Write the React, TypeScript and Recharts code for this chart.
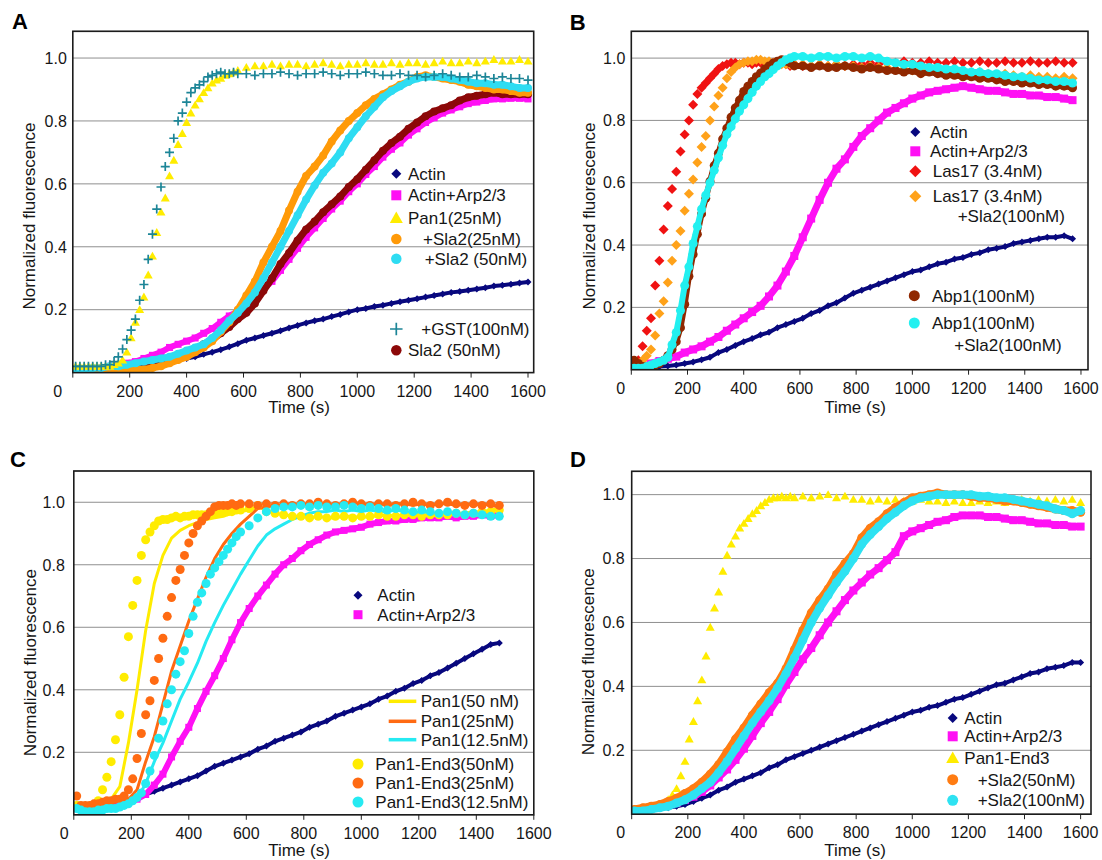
import React from "react";
import { ScatterChart, Scatter, XAxis, YAxis, CartesianGrid } from "recharts";

const FONT = '"Liberation Sans", Arial, Helvetica, sans-serif';
const INK = "#161616";

function range(a: number, b: number, step: number): number[] {
  const out: number[] = [];
  for (let t = a; t <= b; t += step) out.push(t);
  return out;
}

// ---------- axis ticks ----------
const xTicks = [0, 200, 400, 600, 800, 1000, 1200, 1400, 1600];
const yTicks = [0.2, 0.4, 0.6, 0.8, 1.0];

// ---------- sampling times (s) ----------
const timeA = range(10, 1600, 30);
const timeAFast = [...range(10, 580, 15), ...range(610, 1600, 30)];
const timeB = range(10, 1570, 30);
const timeBFast = [...range(10, 580, 15), ...range(610, 1570, 30)];
const timeC = range(10, 1480, 30);
const timeCFast = [...range(10, 580, 15), ...range(610, 1480, 30)];
const timeD = range(10, 1600, 30);
const timeDFast = [...range(10, 580, 15), ...range(610, 1600, 30)];

// ---------- Panel A values ----------
const aActin = [0.01,0.012,0.012,0.015,0.015,0.018,0.02,0.022,0.025,0.027,
  0.03,0.035,0.04,0.045,0.05,0.058,0.065,0.073,0.082,0.092,
  0.103,0.11,0.118,0.125,0.133,0.142,0.15,0.158,0.165,0.17,
  0.178,0.185,0.193,0.2,0.204,0.21,0.214,0.22,0.225,0.23,
  0.235,0.24,0.245,0.25,0.255,0.258,0.262,0.266,0.27,0.275,
  0.278,0.281,0.285,0.288];
const aArp = [0.01,0.01,0.01,0.015,0.02,0.025,0.03,0.035,0.045,0.055,
  0.065,0.08,0.09,0.1,0.11,0.125,0.14,0.16,0.18,0.195,
  0.21,0.235,0.265,0.29,0.325,0.36,0.395,0.43,0.46,0.49,
  0.52,0.545,0.575,0.6,0.63,0.655,0.685,0.71,0.73,0.755,
  0.775,0.795,0.81,0.825,0.835,0.845,0.855,0.86,0.865,0.87,
  0.87,0.872,0.872,0.87];
const aPan1 = [0.02,0.02,0.02,0.02,0.02,0.02,0.02,0.02,0.02,0.025,
  0.03,0.04,0.065,0.11,0.16,0.2,0.24,0.31,0.37,0.445,
  0.51,0.555,0.625,0.675,0.725,0.76,0.795,0.825,0.85,0.87,
  0.89,0.905,0.92,0.93,0.935,0.945,0.95,0.955,0.96,
  0.97,0.975,0.975,0.98,0.975,0.98,0.98,0.975,0.98,0.985,
  0.98,0.975,0.98,0.98,0.985,0.98,0.98,0.985,0.98,0.985,
  0.985,0.98,0.985,0.99,0.985,0.985,0.99,0.985,0.99,0.995,
  0.99,0.99,0.995,0.99];
const aSla25 = [0.01,0.01,0.005,0.005,0.005,0.005,0.005,0.01,0.01,0.015,
  0.02,0.03,0.04,0.05,0.065,0.08,0.1,0.13,0.16,0.2,
  0.245,0.29,0.35,0.4,0.45,0.515,0.575,0.625,0.655,0.69,
  0.735,0.77,0.8,0.825,0.85,0.87,0.885,0.9,0.915,0.925,
  0.94,0.945,0.94,0.935,0.93,0.925,0.915,0.91,0.905,0.9,
  0.9,0.895,0.89,0.89];
const aSla50 = [0.01,0.01,0.015,0.015,0.02,0.02,0.025,0.03,0.035,0.04,
  0.045,0.05,0.06,0.07,0.08,0.09,0.11,0.135,0.165,0.19,
  0.22,0.255,0.3,0.35,0.4,0.45,0.5,0.55,0.595,0.635,
  0.665,0.7,0.745,0.78,0.815,0.845,0.875,0.895,0.91,0.925,
  0.935,0.94,0.94,0.94,0.935,0.93,0.925,0.92,0.92,0.915,
  0.915,0.91,0.905,0.905];
const aGST = [0.02,0.02,0.02,0.02,0.02,0.02,0.02,0.025,0.025,0.035,
  0.05,0.075,0.105,0.135,0.17,0.23,0.28,0.36,0.44,0.52,
  0.59,0.655,0.7,0.745,0.8,0.825,0.86,0.89,0.905,0.915,
  0.925,0.94,0.945,0.95,0.955,0.95,0.95,0.955,0.95,
  0.95,0.945,0.95,0.95,0.955,0.95,0.945,0.95,0.95,0.955,
  0.95,0.945,0.95,0.95,0.955,0.95,0.945,0.945,0.95,0.945,
  0.945,0.94,0.945,0.95,0.945,0.94,0.94,0.945,0.94,0.935,
  0.94,0.935,0.935,0.93];
const aSla2 = [0.01,0.01,0.01,0.01,0.01,0.015,0.02,0.025,0.03,0.035,
  0.04,0.045,0.055,0.065,0.075,0.09,0.105,0.125,0.145,0.17,
  0.19,0.22,0.26,0.3,0.345,0.38,0.42,0.455,0.48,0.51,
  0.535,0.56,0.59,0.615,0.645,0.675,0.705,0.73,0.75,0.775,
  0.795,0.815,0.83,0.84,0.85,0.865,0.875,0.88,0.885,0.89,
  0.885,0.885,0.885,0.885];

// ---------- Panel B values ----------
const bActin = [0.0,0.0,0.005,0.01,0.012,0.015,0.02,0.025,0.032,0.04,
  0.055,0.065,0.078,0.09,0.1,0.112,0.12,0.135,0.145,0.155,
  0.165,0.18,0.19,0.205,0.215,0.23,0.245,0.255,0.265,0.275,
  0.285,0.295,0.305,0.315,0.32,0.33,0.34,0.345,0.355,0.36,
  0.37,0.375,0.385,0.39,0.395,0.405,0.41,0.415,0.42,0.425,
  0.425,0.43,0.42];
const bArp = [0.005,0.01,0.02,0.028,0.035,0.042,0.055,0.065,0.075,0.09,
  0.105,0.125,0.145,0.165,0.185,0.205,0.235,0.27,0.315,0.365,
  0.425,0.485,0.545,0.6,0.645,0.675,0.715,0.75,0.775,0.8,
  0.825,0.84,0.855,0.87,0.88,0.89,0.895,0.9,0.905,0.91,
  0.905,0.9,0.895,0.895,0.89,0.885,0.885,0.88,0.88,0.875,
  0.875,0.87,0.865];
const bLas17 = [0.02,0.03,0.075,0.125,0.165,0.27,0.35,0.45,0.525,0.58,
  0.635,0.7,0.755,0.8,0.85,0.885,0.905,0.92,0.935,0.95,
  0.965,0.975,0.98,0.985,0.985,0.98,0.985,0.985,0.98,0.985,
  0.985,0.98,0.985,0.985,0.98,0.985,0.98,0.975,0.98,
  0.975,0.975,0.98,0.975,0.98,0.975,0.98,0.98,0.985,0.98,
  0.985,0.985,0.99,0.985,0.985,0.99,0.985,0.985,0.99,0.985,
  0.985,0.99,0.985,0.985,0.99,0.985,0.985,0.99,0.985,0.985,
  0.99,0.985,0.985];
const bLas17Sla2 = [0.01,0.015,0.03,0.045,0.065,0.11,0.18,0.22,0.28,0.35,
  0.4,0.445,0.51,0.565,0.61,0.665,0.715,0.75,0.8,0.845,
  0.88,0.905,0.935,0.955,0.97,0.98,0.985,0.99,0.99,0.995,
  0.995,0.99,0.99,0.985,0.985,0.98,0.98,0.98,0.98,
  0.98,0.975,0.98,0.975,0.98,0.975,0.975,0.97,0.975,0.97,
  0.97,0.965,0.965,0.96,0.965,0.96,0.955,0.96,0.955,0.955,
  0.95,0.955,0.95,0.945,0.95,0.945,0.94,0.945,0.94,0.94,
  0.935,0.94,0.935];
const bAbp1 = [0.03,0.02,0.01,0.01,0.01,0.015,0.02,0.03,0.045,0.065,
  0.09,0.135,0.21,0.3,0.37,0.435,0.5,0.55,0.605,0.655,
  0.695,0.74,0.775,0.81,0.84,0.865,0.893,0.91,0.925,0.94,
  0.952,0.965,0.975,0.984,0.99,0.995,0.99,0.985,0.975,
  0.975,0.97,0.975,0.97,0.97,0.975,0.97,0.965,0.97,0.965,
  0.96,0.96,0.955,0.96,0.95,0.955,0.95,0.945,0.945,0.94,
  0.94,0.935,0.935,0.93,0.925,0.925,0.92,0.92,0.915,0.915,
  0.91,0.91,0.905];
const bAbp1Sla2 = [0.005,0.005,0.005,0.01,0.015,0.02,0.025,0.03,0.04,0.08,
  0.12,0.19,0.27,0.33,0.405,0.46,0.515,0.56,0.6,0.64,
  0.68,0.72,0.755,0.78,0.805,0.83,0.85,0.87,0.89,0.91,
  0.925,0.94,0.95,0.963,0.975,0.985,0.995,1.0,1.005,
  1.005,1.0,1.005,1.005,1.0,1.005,1.005,1.0,1.005,1.0,
  0.99,0.985,0.98,0.98,0.975,0.97,0.97,0.965,0.965,0.96,
  0.955,0.955,0.95,0.95,0.945,0.94,0.94,0.935,0.93,0.93,
  0.925,0.925,0.92];

// ---------- Panel C values ----------
const cActin = [0.03,0.03,0.025,0.03,0.035,0.04,0.045,0.055,0.065,0.075,
  0.085,0.095,0.105,0.115,0.125,0.14,0.155,0.165,0.175,0.185,
  0.195,0.21,0.22,0.235,0.245,0.255,0.265,0.28,0.29,0.3,
  0.315,0.325,0.335,0.345,0.355,0.37,0.38,0.395,0.405,0.42,
  0.43,0.445,0.455,0.47,0.485,0.5,0.515,0.53,0.545,0.55];
const cArp = [0.02,0.02,0.02,0.02,0.025,0.03,0.04,0.05,0.065,0.095,
  0.13,0.185,0.235,0.28,0.34,0.395,0.445,0.5,0.56,0.615,
  0.66,0.7,0.735,0.77,0.8,0.82,0.845,0.865,0.88,0.895,
  0.905,0.91,0.915,0.92,0.93,0.935,0.94,0.94,0.945,0.945,
  0.95,0.95,0.95,0.955,0.95,0.955,0.955,0.96,0.955,0.96];
const cPan1_50 = [0.02,0.02,0.02,0.03,0.05,0.09,0.23,0.4,0.59,0.74,
  0.83,0.885,0.91,0.925,0.935,0.945,0.95,0.955,0.965,0.97,
  0.975,0.985,0.975,0.965,0.96,0.955,0.955,0.95,0.955,0.95,
  0.95,0.955,0.955,0.95,0.955,0.955,0.96,0.955,0.96,0.96,
  0.96,0.955,0.96,0.965,0.96,0.965,0.97,0.97,0.975,0.98];
const cPan1_25 = [0.04,0.03,0.03,0.035,0.04,0.045,0.05,0.08,0.17,0.25,
  0.355,0.46,0.54,0.62,0.69,0.76,0.82,0.865,0.9,0.93,
  0.955,0.98,0.985,0.99,0.99,0.995,0.99,0.995,0.99,0.995,
  0.99,0.995,1.0,0.995,0.99,0.995,0.99,0.995,0.995,0.99,
  0.995,0.99,0.995,0.995,0.99,0.995,0.99,0.995,0.99,0.985];
const cPan1_12 = [0.01,0.01,0.015,0.015,0.02,0.025,0.03,0.05,0.1,0.17,
  0.23,0.3,0.37,0.425,0.485,0.555,0.615,0.67,0.72,0.77,
  0.815,0.86,0.895,0.915,0.93,0.945,0.955,0.965,0.97,0.97,
  0.975,0.97,0.975,0.97,0.975,0.97,0.97,0.975,0.97,0.965,
  0.97,0.965,0.965,0.96,0.965,0.96,0.96,0.955,0.96,0.955];
const cEnd3_50 = [0.03,0.02,0.02,0.015,0.02,0.045,0.08,0.12,0.17,0.24,
  0.32,0.44,0.57,0.67,0.75,0.83,0.88,0.905,0.925,0.94,
  0.945,0.945,0.95,0.955,0.95,0.955,0.955,0.96,0.96,0.96,
  0.96,0.965,0.965,0.965,0.97,0.97,0.97,0.975,0.975,
  0.98,0.99,0.97,0.965,0.96,0.955,0.955,0.95,0.955,0.95,
  0.955,0.955,0.95,0.955,0.955,0.96,0.955,0.955,0.96,0.96,
  0.955,0.96,0.96,0.96,0.965,0.96,0.965,0.97,0.97,0.975];
const cEnd3_25 = [0.06,0.03,0.03,0.03,0.035,0.035,0.04,0.045,0.045,0.05,
  0.05,0.06,0.08,0.115,0.18,0.26,0.32,0.365,0.43,0.5,
  0.565,0.635,0.695,0.75,0.785,0.83,0.87,0.9,0.925,0.94,
  0.955,0.97,0.985,0.99,0.99,0.99,0.995,0.99,0.995,
  0.995,0.99,0.995,0.99,0.995,0.99,0.995,0.995,1.0,0.995,
  0.99,0.995,1.0,0.995,0.99,0.995,0.995,0.99,0.995,1.0,
  0.995,0.99,0.995,1.0,0.995,0.99,0.995,0.99,0.995,0.99];
const cEnd3_12 = [0.02,0.015,0.01,0.01,0.01,0.015,0.015,0.02,0.02,0.02,
  0.025,0.03,0.035,0.045,0.055,0.07,0.1,0.14,0.19,0.245,
  0.3,0.355,0.4,0.45,0.49,0.525,0.58,0.635,0.68,0.71,
  0.74,0.77,0.79,0.81,0.83,0.85,0.87,0.89,0.905,
  0.925,0.95,0.97,0.98,0.985,0.985,0.99,0.985,0.99,0.985,
  0.985,0.99,0.985,0.98,0.985,0.98,0.975,0.98,0.975,0.97,
  0.975,0.97,0.965,0.97,0.965,0.96,0.965,0.96,0.955,0.955];

// ---------- Panel D values ----------
const dActin = [0.01,0.01,0.015,0.02,0.02,0.025,0.03,0.04,0.05,0.06,
  0.075,0.085,0.1,0.11,0.12,0.13,0.145,0.155,0.17,0.18,
  0.19,0.2,0.21,0.22,0.23,0.24,0.25,0.26,0.27,0.28,
  0.29,0.3,0.31,0.32,0.325,0.335,0.34,0.35,0.36,0.365,
  0.375,0.385,0.395,0.405,0.41,0.42,0.43,0.44,0.445,0.455,
  0.46,0.465,0.475,0.475];
const dArp = [0.01,0.015,0.02,0.025,0.03,0.035,0.045,0.055,0.07,0.09,
  0.115,0.14,0.17,0.205,0.245,0.285,0.32,0.36,0.405,0.445,
  0.485,0.52,0.56,0.6,0.635,0.67,0.7,0.725,0.75,0.77,
  0.795,0.82,0.87,0.885,0.895,0.905,0.915,0.92,0.93,0.935,
  0.935,0.935,0.93,0.93,0.925,0.92,0.92,0.915,0.91,0.91,
  0.905,0.905,0.9,0.9];
const dEnd3 = [0.01,0.015,0.02,0.02,0.02,0.025,0.03,0.035,0.045,0.06,
  0.08,0.12,0.165,0.235,0.29,0.355,0.42,0.495,0.585,0.645,
  0.695,0.76,0.81,0.845,0.87,0.895,0.91,0.925,0.94,0.95,
  0.965,0.975,0.985,0.99,0.99,0.995,0.99,0.995,0.99,
  0.995,0.99,0.995,1.0,0.99,0.995,0.985,0.985,0.98,0.985,
  0.98,0.985,0.98,0.98,0.985,0.98,0.98,0.975,0.98,0.975,
  0.975,0.98,0.975,0.98,0.975,0.98,0.985,0.98,0.985,0.98,
  0.985,0.98,0.985,0.975];
const dSla50 = [0.015,0.02,0.025,0.03,0.04,0.05,0.065,0.08,0.1,0.125,
  0.155,0.195,0.235,0.27,0.31,0.345,0.38,0.41,0.455,0.515,
  0.575,0.63,0.67,0.705,0.75,0.785,0.815,0.865,0.895,0.915,
  0.94,0.96,0.975,0.99,0.995,1.0,1.005,1.0,1.0,1.0,
  0.995,0.99,0.99,0.985,0.98,0.98,0.975,0.97,0.965,0.96,
  0.955,0.95,0.95,0.945];
const dSla100 = [0.01,0.01,0.015,0.02,0.025,0.035,0.045,0.06,0.08,0.1,
  0.13,0.165,0.205,0.245,0.285,0.32,0.355,0.395,0.44,0.49,
  0.545,0.6,0.645,0.685,0.725,0.76,0.8,0.845,0.875,0.9,
  0.925,0.945,0.965,0.98,0.99,0.995,1.0,1.0,1.0,1.0,
  1.0,0.995,0.995,0.99,0.99,0.985,0.98,0.975,0.97,0.965,
  0.955,0.95,0.94,0.95];

// ---------- colours ----------
const NAVY = "#08087e";
const MAGENTA = "#ff10f4";
const YELLOW = "#ffec00";
const ORANGE_A = "#ff9a08";
const CYAN_A = "#2edcf2";
const TEAL = "#1c8597";
const MAROON = "#8c0808";
const RED = "#f01212";
const ORANGE_B = "#ffa21a";
const BROWN = "#902800";
const CYAN_B = "#22f0f0";
const ORANGE_C = "#ff6a12";
const CYAN_C = "#26eaf2";
const ORANGE_D = "#ff7c12";
const CYAN_D = "#2ee2f2";

type Kind = "circle" | "square" | "diamond" | "triangle" | "plus" | "none" | "line";

function drawMarker(kind: Kind, cx: number, cy: number, s: number, color: string) {
  const h = s / 2;
  switch (kind) {
    case "circle":
      return <circle cx={cx} cy={cy} r={h} fill={color} />;
    case "square":
      return <rect x={cx - h} y={cy - h} width={s} height={s} fill={color} />;
    case "diamond":
      return <polygon points={`${cx},${cy - h} ${cx + h},${cy} ${cx},${cy + h} ${cx - h},${cy}`} fill={color} />;
    case "triangle":
      return <polygon points={`${cx},${cy - h} ${cx + h},${cy + h * 0.75} ${cx - h},${cy + h * 0.75}`} fill={color} />;
    case "plus":
      return <path d={`M${cx - h},${cy}H${cx + h}M${cx},${cy - h}V${cy + h}`} stroke={color} strokeWidth={1.7} fill="none" />;
    default:
      return <g />;
  }
}

const zip = (ts: number[], vs: number[]) => {
  const n = Math.min(ts.length, vs.length);
  const out: { x: number; y: number }[] = [];
  for (let i = 0; i < n; i++) out.push({ x: ts[i], y: vs[i] });
  return out;
};

type Series = { id: string; times: number[]; values: number[]; kind: Kind; color: string; size: number; band: number };
type LegendItem = { kind: Kind; color: string; size: number; x: number; y: number; text: string; tx: number; x2?: number; extra?: { text: string; x: number; y: number } };

const seriesA: Series[] = [
  { id: "aActin", times: timeA, values: aActin, kind: "diamond", color: NAVY, size: 7, band: 4 },
  { id: "aArp", times: timeA, values: aArp, kind: "square", color: MAGENTA, size: 7, band: 6 },
  { id: "aSla2", times: timeA, values: aSla2, kind: "circle", color: MAROON, size: 8, band: 7 },
  { id: "aSla25", times: timeA, values: aSla25, kind: "circle", color: ORANGE_A, size: 8, band: 7 },
  { id: "aSla50", times: timeA, values: aSla50, kind: "circle", color: CYAN_A, size: 8, band: 7 },
  { id: "aPan1", times: timeAFast, values: aPan1, kind: "triangle", color: YELLOW, size: 9, band: 0 },
  { id: "aGST", times: timeAFast, values: aGST, kind: "plus", color: TEAL, size: 9, band: 0 },
];
const seriesB: Series[] = [
  { id: "bActin", times: timeB, values: bActin, kind: "diamond", color: NAVY, size: 7, band: 4 },
  { id: "bArp", times: timeB, values: bArp, kind: "square", color: MAGENTA, size: 8, band: 7 },
  { id: "bLas", times: timeBFast, values: bLas17, kind: "diamond", color: RED, size: 10, band: 0 },
  { id: "bLasS", times: timeBFast, values: bLas17Sla2, kind: "diamond", color: ORANGE_B, size: 10, band: 0 },
  { id: "bAbp", times: timeBFast, values: bAbp1, kind: "circle", color: BROWN, size: 9, band: 6 },
  { id: "bAbpS", times: timeBFast, values: bAbp1Sla2, kind: "circle", color: CYAN_B, size: 9, band: 6 },
];
const seriesC: Series[] = [
  { id: "cActin", times: timeC, values: cActin, kind: "diamond", color: NAVY, size: 7, band: 4 },
  { id: "cArp", times: timeC, values: cArp, kind: "square", color: MAGENTA, size: 7, band: 6 },
  { id: "cP50", times: timeC, values: cPan1_50, kind: "line", color: YELLOW, size: 3, band: 0 },
  { id: "cP25", times: timeC, values: cPan1_25, kind: "line", color: ORANGE_C, size: 3, band: 0 },
  { id: "cP12", times: timeC, values: cPan1_12, kind: "line", color: CYAN_C, size: 3, band: 0 },
  { id: "cE50", times: timeCFast, values: cEnd3_50, kind: "circle", color: YELLOW, size: 9, band: 0 },
  { id: "cE25", times: timeCFast, values: cEnd3_25, kind: "circle", color: ORANGE_C, size: 9, band: 0 },
  { id: "cE12", times: timeCFast, values: cEnd3_12, kind: "circle", color: CYAN_C, size: 9, band: 0 },
];
const seriesD: Series[] = [
  { id: "dActin", times: timeD, values: dActin, kind: "diamond", color: NAVY, size: 7, band: 4 },
  { id: "dArp", times: timeD, values: dArp, kind: "square", color: MAGENTA, size: 8, band: 7 },
  { id: "dEnd3", times: timeDFast, values: dEnd3, kind: "triangle", color: YELLOW, size: 9, band: 0 },
  { id: "dSla50", times: timeD, values: dSla50, kind: "circle", color: ORANGE_D, size: 9, band: 8 },
  { id: "dSla100", times: timeD, values: dSla100, kind: "circle", color: CYAN_D, size: 9, band: 8 },
];

const legendA: LegendItem[] = [
  { kind: "diamond", color: NAVY, size: 10, x: 396.3, y: 173.7, text: "Actin", tx: 408 },
  { kind: "square", color: MAGENTA, size: 10, x: 396.3, y: 195.3, text: "Actin+Arp2/3", tx: 408 },
  { kind: "triangle", color: YELLOW, size: 13, x: 396.3, y: 218, text: "Pan1(25nM)", tx: 408 },
  { kind: "circle", color: ORANGE_A, size: 10.5, x: 396.3, y: 239, text: "+Sla2(25nM)", tx: 423 },
  { kind: "circle", color: CYAN_A, size: 10.5, x: 396.3, y: 258.7, text: "+Sla2 (50nM)", tx: 424.7 },
  { kind: "plus", color: TEAL, size: 12.5, x: 396.3, y: 329, text: "+GST(100nM)", tx: 421.3 },
  { kind: "circle", color: MAROON, size: 10.5, x: 396.3, y: 350.3, text: "Sla2 (50nM)", tx: 408 },
];
const legendB: LegendItem[] = [
  { kind: "diamond", color: NAVY, size: 10, x: 357.3, y: 132, text: "Actin", tx: 372 },
  { kind: "square", color: MAGENTA, size: 10, x: 357.3, y: 151.3, text: "Actin+Arp2/3", tx: 372 },
  { kind: "diamond", color: RED, size: 12, x: 357.3, y: 171.3, text: "Las17 (3.4nM)", tx: 374.7 },
  { kind: "diamond", color: ORANGE_B, size: 12, x: 357.3, y: 196.3, text: "Las17 (3.4nM)", tx: 374.7, extra: { text: "+Sla2(100nM)", x: 399.7, y: 216.3 } },
  { kind: "circle", color: BROWN, size: 11, x: 356.3, y: 295.7, text: "Abp1(100nM)", tx: 374 },
  { kind: "circle", color: CYAN_B, size: 11, x: 356.3, y: 323, text: "Abp1(100nM)", tx: 374, extra: { text: "+Sla2(100nM)", x: 396.3, y: 344.7 } },
];
const legendC: LegendItem[] = [
  { kind: "diamond", color: NAVY, size: 9, x: 358, y: 155.3, text: "Actin", tx: 377.3 },
  { kind: "square", color: MAGENTA, size: 9, x: 358, y: 174.7, text: "Actin+Arp2/3", tx: 377.3 },
  { kind: "line", color: YELLOW, size: 3.5, x: 388.7, x2: 416.3, y: 261.3, text: "Pan1(50 nM)", tx: 420.7 },
  { kind: "line", color: ORANGE_C, size: 3.5, x: 388.7, x2: 416.3, y: 281.3, text: "Pan1(25nM)", tx: 420.7 },
  { kind: "line", color: CYAN_C, size: 3.5, x: 388.7, x2: 416.3, y: 299.7, text: "Pan1(12.5nM)", tx: 420.7 },
  { kind: "circle", color: YELLOW, size: 11, x: 358, y: 324, text: "Pan1-End3(50nM)", tx: 375.3 },
  { kind: "circle", color: ORANGE_C, size: 11, x: 358, y: 343, text: "Pan1-End3(25nM)", tx: 375.3 },
  { kind: "circle", color: CYAN_C, size: 11, x: 358, y: 362, text: "Pan1-End3(12.5nM)", tx: 375.3 },
];
const legendD: LegendItem[] = [
  { kind: "diamond", color: NAVY, size: 10, x: 394.7, y: 278, text: "Actin", tx: 406.3 },
  { kind: "square", color: MAGENTA, size: 10, x: 394.7, y: 296.3, text: "Actin+Arp2/3", tx: 406.3 },
  { kind: "triangle", color: YELLOW, size: 13, x: 394.7, y: 318, text: "Pan1-End3", tx: 406.3 },
  { kind: "circle", color: ORANGE_D, size: 11, x: 394.7, y: 339.7, text: "+Sla2(50nM)", tx: 419.7 },
  { kind: "circle", color: CYAN_D, size: 11, x: 394.7, y: 360.3, text: "+Sla2(100nM)", tx: 419.7 },
];

type PanelCfg = {
  letter: string; ox: number; oy: number; left: number; right: number; top: number; bottom: number;
  xMax: number; yMax: number; yGap: number; zeroShift: number; letterX: number; letterY: number;
  xTitleX: number; xTitleY: number; yTitleX: number; yTitleY: number; series: Series[]; legend: LegendItem[];
};

const W = 570;
const H = 420;
const YW = 60;
const XH = 30;

const panels: PanelCfg[] = [
  { letter: "A", ox: 0, oy: 0, left: 72.8, right: 533.7, top: 31.3, bottom: 372.6, xMax: 1620, yMax: 1.085, yGap: 6, zeroShift: -15,
    letterX: 12, letterY: 28.6, xTitleX: 299, xTitleY: 413, yTitleX: 35, yTitleY: 216, series: seriesA, legend: legendA },
  { letter: "B", ox: 558, oy: 0, left: 73.3, right: 530, top: 31.3, bottom: 369.7, xMax: 1625, yMax: 1.086, yGap: 6, zeroShift: -10.5,
    letterX: 11.7, letterY: 29.6, xTitleX: 297, xTitleY: 413, yTitleX: 36.5, yTitleY: 216, series: seriesB, legend: legendB },
  { letter: "C", ox: 0, oy: 440, left: 73.8, right: 533.8, top: 31, bottom: 374.8, xMax: 1600, yMax: 1.1, yGap: 9, zeroShift: -9.5,
    letterX: 10, letterY: 27, xTitleX: 299, xTitleY: 415.6, yTitleX: 35.7, yTitleY: 222.6, series: seriesC, legend: legendC },
  { letter: "D", ox: 558, oy: 440, left: 73.7, right: 533, top: 31.3, bottom: 374.2, xMax: 1637, yMax: 1.073, yGap: 7, zeroShift: -11,
    letterX: 12, letterY: 27, xTitleX: 297, xTitleY: 416, yTitleX: 36.5, yTitleY: 221.8, series: seriesD, legend: legendD },
];

function Panel({ p }: { p: PanelCfg }) {
  const margin = { left: p.left - YW, right: W - p.right, top: p.top, bottom: H - p.bottom - XH };
  const xTick = (props: any) => {
    const v = props.payload.value;
    return (
      <text x={props.x + (v === 0 ? p.zeroShift : 0)} y={p.bottom + 24} textAnchor="middle" fontSize={16} fontFamily={FONT} fill={INK}>
        {v}
      </text>
    );
  };
  const yTick = (props: any) => (
    <text x={p.left - p.yGap} y={props.y} dy="0.36em" textAnchor="end" fontSize={16} fontFamily={FONT} fill={INK}>
      {Number(props.payload.value).toFixed(1)}
    </text>
  );
  return (
    <div style={{ position: "absolute", left: p.ox, top: p.oy, width: W, height: H }}>
      <ScatterChart width={W} height={H} margin={margin}>
        <CartesianGrid vertical={false} stroke="#8f8f8f" strokeWidth={1} />
        <XAxis type="number" dataKey="x" domain={[0, p.xMax]} allowDataOverflow ticks={xTicks} interval={0} height={XH}
          axisLine={false} tickSize={5} tickLine={{ stroke: "#222", strokeWidth: 1 }} tick={xTick} />
        <YAxis type="number" dataKey="y" domain={[0, p.yMax]} allowDataOverflow ticks={yTicks} interval={0} width={YW}
          axisLine={false} tickLine={false} tick={yTick} />
        {p.series.map((s) =>
          s.kind === "line" ? (
            <Scatter key={s.id} name={s.id} data={zip(s.times, s.values)} fill={s.color}
              line={{ stroke: s.color, strokeWidth: s.size, strokeLinejoin: "round" }} lineType="joint" shape={() => <g />} isAnimationActive={false} />
          ) : (
            <Scatter key={s.id} name={s.id} data={zip(s.times, s.values)} fill={s.color}
              line={s.band > 0 ? { stroke: s.color, strokeWidth: s.band, strokeLinejoin: "round", strokeLinecap: "round" } : false}
              lineType="joint"
              shape={(props: any) => (props.cx == null || props.cy == null ? <g /> : drawMarker(s.kind, props.cx, props.cy, s.size, s.color))}
              isAnimationActive={false} />
          )
        )}
      </ScatterChart>
      <svg width={W} height={430} style={{ position: "absolute", left: 0, top: 0, overflow: "visible", pointerEvents: "none" }}
        fontFamily={FONT}>
        <rect x={p.left} y={p.top} width={p.right - p.left} height={p.bottom - p.top} fill="none" stroke="#1c1c1c" strokeWidth={1.6} />
        <text x={p.letterX} y={p.letterY} fontSize={22} fontWeight="bold" fill="#000">{p.letter}</text>
        <text x={p.xTitleX} y={p.xTitleY} textAnchor="middle" fontSize={17} fill={INK}>Time (s)</text>
        <text x={p.yTitleX} y={p.yTitleY} transform={`rotate(-90 ${p.yTitleX} ${p.yTitleY})`} textAnchor="middle" fontSize={17} fill={INK}>
          Normalized fluorescence
        </text>
        {p.legend.map((it, i) => (
          <g key={i}>
            {it.kind === "line" ? (
              <line x1={it.x} x2={it.x2} y1={it.y} y2={it.y} stroke={it.color} strokeWidth={it.size} />
            ) : (
              drawMarker(it.kind, it.x, it.y, it.size, it.color)
            )}
            <text x={it.tx} y={it.y} dy="0.36em" fontSize={17} fill={INK}>{it.text}</text>
            {it.extra ? (
              <text x={it.extra.x} y={it.extra.y} dy="0.36em" fontSize={17} fill={INK}>{it.extra.text}</text>
            ) : null}
          </g>
        ))}
      </svg>
    </div>
  );
}

export default function App() {
  return (
    <div style={{ position: "absolute", left: 0, top: 0, width: 1102, height: 860, background: "#fff", fontFamily: FONT, overflow: "hidden" }}>
      {panels.map((p) => (
        <Panel key={p.letter} p={p} />
      ))}
    </div>
  );
}
